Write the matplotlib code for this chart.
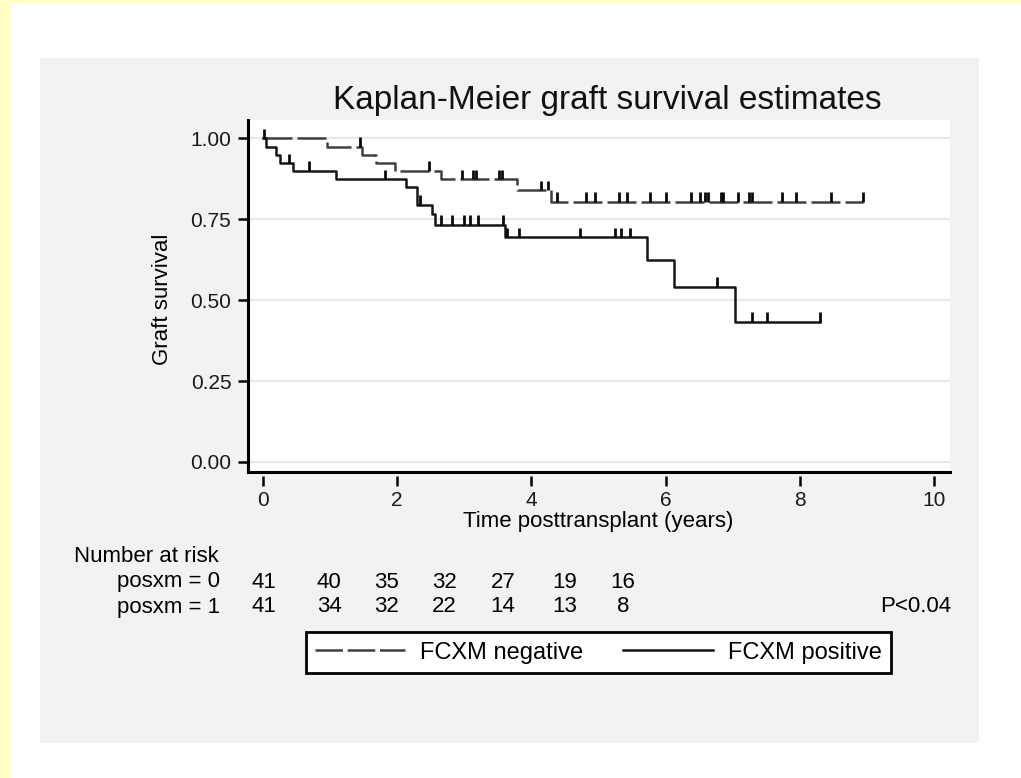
import numpy as np
import matplotlib
matplotlib.use("Agg")
import matplotlib.pyplot as plt
from matplotlib.patches import Rectangle
from matplotlib.lines import Line2D

plt.rcParams['font.family'] = ['Liberation Sans', 'DejaVu Sans']

# ---------------- data ----------------
title = "Kaplan-Meier graft survival estimates"
xlabel = "Time posttransplant (years)"
ylabel = "Graft survival"
xticks = [0, 2, 4, 6, 8, 10]
yticks = [0.00, 0.25, 0.50, 0.75, 1.00]
ytick_labels = ["0.00", "0.25", "0.50", "0.75", "1.00"]

# FCXM negative (posxm = 0): step function
neg_times = [0, 0.95, 1.47, 1.69, 1.97, 2.65, 3.78, 4.30, 8.95]
neg_surv = [1.0, 0.974, 0.949, 0.923, 0.900, 0.874, 0.840, 0.804, 0.804]
neg_censor = [1.45, 2.47, 2.96, 3.13, 3.17, 3.52, 3.56, 4.14, 4.25, 4.38, 4.81,
              4.95, 5.30, 5.43, 5.77, 6.00, 6.38, 6.51, 6.59, 6.63, 6.82, 6.86,
              7.08, 7.25, 7.29, 7.74, 7.95, 8.47, 8.95]

# FCXM positive (posxm = 1)
pos_times = [0, 0.05, 0.20, 0.25, 0.44, 1.09, 2.13, 2.30, 2.52, 2.56, 3.61,
             5.73, 6.13, 7.03, 8.30]
pos_surv = [1.0, 0.974, 0.949, 0.923, 0.900, 0.874, 0.848, 0.794, 0.766, 0.733,
            0.695, 0.625, 0.541, 0.433, 0.433]
pos_censor = [0.02, 0.39, 0.69, 1.82, 2.34, 2.65, 2.82, 3.00, 3.09, 3.21, 3.57,
              3.64, 3.82, 4.72, 5.25, 5.34, 5.47, 6.77, 7.29, 7.51, 8.30]

risk_title = "Number at risk"
risk_rows = ["posxm = 0", "posxm = 1"]
risk_neg = [41, 40, 35, 32, 27, 19, 16]
risk_pos = [41, 34, 32, 22, 14, 13, 8]
pvalue_text = "P<0.04"
legend_labels = ["FCXM negative", "FCXM positive"]

# ---------------- figure ----------------
W, H = 1021, 778
fig = plt.figure(figsize=(W / 100, H / 100), dpi=100)
fig.patch.set_facecolor("white")

def fx(px):
    return px / W

def fy(py):
    return 1 - py / H

# yellow border strips
fig.patches.append(Rectangle((0, 0), fx(11), 1, transform=fig.transFigure,
                             facecolor="#ffffc6", edgecolor="none", zorder=-5))
fig.patches.append(Rectangle((0, fy(3)), 1, 1 - fy(3), transform=fig.transFigure,
                             facecolor="#ffffc6", edgecolor="none", zorder=-5))
# gray graph region
fig.patches.append(Rectangle((fx(40), fy(743)), fx(979 - 40), (743 - 58) / H,
                             transform=fig.transFigure, facecolor="#f2f2f2",
                             edgecolor="none", zorder=-4))

ax = fig.add_axes([fx(248), fy(472), fx(950 - 248), (472 - 120) / H])
ax.set_zorder(1)
ax.set_facecolor("white")
ax.set_xlim(-0.2235, 10.24)
ax.set_ylim(-0.031, 1.056)

for y in yticks:
    ax.axhline(y, color="#e9e9e9", lw=1.6, zorder=1)

neg_color = "#404040"
pos_color = "#161616"
lw = 1.8

l_neg, = ax.step(neg_times, neg_surv, where="post", color=neg_color, lw=lw,
                 linestyle=(0, (11.6, 2.0)), zorder=3)
l_pos, = ax.step(pos_times, pos_surv, where="post", color=pos_color, lw=lw,
                 zorder=4)

def surv_at(times, surv, t):
    idx = np.searchsorted(np.asarray(times), t, side="right") - 1
    return np.asarray(surv)[idx]

tick_h = 0.029
s_neg = surv_at(neg_times, neg_surv, np.asarray(neg_censor))
ax.vlines(neg_censor, s_neg, s_neg + tick_h, color="#0a0a0a", lw=2.0, zorder=5)
s_pos = surv_at(pos_times, pos_surv, np.asarray(pos_censor))
ax.vlines(pos_censor, s_pos, s_pos + tick_h, color="#0a0a0a", lw=2.0, zorder=5)

ax.set_xticks(xticks)
ax.set_yticks(yticks)
ax.set_yticklabels(ytick_labels)
ax.tick_params(axis="both", direction="out", width=1.8, color="black",
               labelsize=15, labelcolor="#1a1a1a")
ax.tick_params(axis="x", length=7.5, pad=3)
ax.tick_params(axis="y", length=7, pad=5)
for s in ["top", "right"]:
    ax.spines[s].set_visible(False)
ax.spines["left"].set_linewidth(2.2)
ax.spines["left"].set_color("black")
# x axis ticks sit slightly below the axis line (Stata style)
ax.spines["bottom"].set_position(("outward", 3))
ax.spines["bottom"].set_visible(False)
ax.plot([0, 1], [0, 0], transform=ax.transAxes, color="black", lw=2.2,
        clip_on=False, zorder=6, solid_capstyle="projecting")

ax.set_xlabel(xlabel, fontsize=16)
ax.xaxis.set_label_coords(0.4986, -0.142)
ax.xaxis.label.set_va("center")
ax.set_ylabel(ylabel, fontsize=16)
ax.yaxis.set_label_coords(-0.122, 0.49)
ax.yaxis.label.set_va("center")

fig.text(fx(607), fy(100), title, ha="center", va="center", fontsize=24,
         color="#111111")

# number at risk table
risk_x = [264, 329, 386, 444, 503, 565, 623]
fs_r = 16
fig.text(fx(74), fy(556), risk_title, ha="left", va="center", fontsize=fs_r)
fig.text(fx(117), fy(582), risk_rows[0], ha="left", va="center", fontsize=fs_r)
fig.text(fx(117), fy(607), risk_rows[1], ha="left", va="center", fontsize=fs_r)
for xp, v0, v1 in zip(risk_x, risk_neg, risk_pos):
    fig.text(fx(xp), fy(582), str(v0), ha="center", va="center", fontsize=fs_r)
    fig.text(fx(xp), fy(607), str(v1), ha="center", va="center", fontsize=fs_r)
fig.text(fx(951), fy(607), pvalue_text, ha="right", va="center", fontsize=fs_r)

# legend
h_neg = Line2D([], [], color=neg_color, lw=lw, linestyle=(0, (11.0, 1.9)))
h_pos = Line2D([], [], color=pos_color, lw=lw)
leg = fig.legend([h_neg, h_pos], legend_labels, loc="center",
                 bbox_to_anchor=(fx(306), fy(675), fx(891 - 306), (675 - 630) / H),
                 mode="expand", ncol=2, fontsize=17, handlelength=3.8,
                 handletextpad=0.62, frameon=True, fancybox=False,
                 edgecolor="black", framealpha=1, borderpad=0.4,
                 borderaxespad=0)
leg.get_frame().set_linewidth(2)

fig.savefig("out.png", dpi=100)
